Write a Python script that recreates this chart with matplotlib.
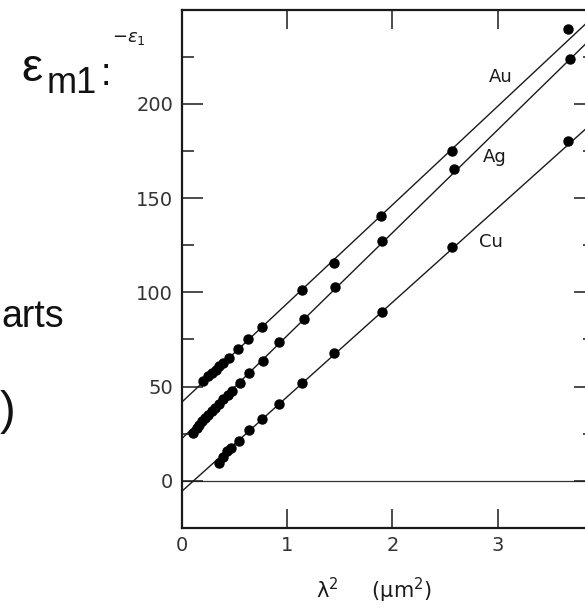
import matplotlib
matplotlib.use('Agg')
import matplotlib.pyplot as plt
import numpy as np

# data (x = lambda^2 in um^2, y = -eps1)
au_x = [0.207, 0.255, 0.293, 0.328, 0.359, 0.397, 0.454, 0.540, 0.634, 0.761,
        1.141, 1.442, 1.892, 2.566, 3.664]
au_y = [52.8, 55.5, 57.3, 59.0, 60.8, 62.6, 65.3, 70.1, 75.2, 81.6,
        101.1, 115.8, 140.3, 175.2, 239.5]

ag_x = [0.112, 0.144, 0.169, 0.198, 0.223, 0.255, 0.287, 0.318, 0.356, 0.397,
        0.439, 0.477, 0.556, 0.644, 0.769, 0.924, 1.163, 1.458, 1.898, 2.581, 3.683]
ag_y = [25.4, 28.0, 29.8, 31.5, 33.3, 35.1, 36.9, 38.7, 41.0, 43.5,
        45.4, 47.5, 51.9, 57.0, 63.8, 73.7, 85.6, 103.0, 127.0, 165.4, 223.8]

cu_x = [0.352, 0.391, 0.429, 0.469, 0.548, 0.641, 0.761, 0.923, 1.147, 1.448,
        1.898, 2.569, 3.664]
cu_y = [9.5, 12.6, 15.6, 17.4, 21.3, 26.8, 32.8, 41.0, 52.0, 67.6,
        89.5, 123.8, 180.5]

# straight fit lines, given by their end points
line_x = [0.0, 4.0]
au_line = [41.6, 251.2]
ag_line = [22.2, 241.0]
cu_line = [-5.7, 195.1]

labels = ['Au', 'Ag', 'Cu']
label_x = [3.025, 2.968, 2.93]
label_y = [214.4, 171.8, 126.6]

ink = '#1a1a1a'
W, H = 585, 609

fig = plt.figure(figsize=(W / 100, H / 100), dpi=100)
fig.patch.set_facecolor('white')

# axes runs past the right edge, like the cropped scan
ax = fig.add_axes([181.5 / W, (H - 528) / H, (595 - 181.5) / W, (528 - 9.5) / H])

ax.axhline(0, color='#333333', lw=0.9, zorder=1)
ax.plot(line_x, au_line, color=ink, lw=1.0)
ax.plot(line_x, ag_line, color=ink, lw=1.0)
ax.plot(line_x, cu_line, color=ink, lw=1.0)

ax.plot(au_x, au_y, 'o', color='black', ms=6.5, mec='black')
ax.plot(ag_x, ag_y, 'o', color='black', ms=6.5, mec='black')
ax.plot(cu_x, cu_y, 'o', color='black', ms=6.5, mec='black')

for lab, lx, ly in zip(labels, label_x, label_y):
    ax.text(lx, ly, lab, fontsize=13, color=ink, ha='center', va='center')

ax.set_xlim(0, 3.92)
ax.set_ylim(-25, 250)

ax.set_xticks([0, 1, 2, 3])
ax.set_xticklabels(['0', '1', '2', '3'])
ax.set_yticks([0, 50, 100, 150, 200])
ax.set_yticks(np.arange(25, 250, 50), minor=True)

ax.tick_params(axis='both', which='major', direction='in', length=15, width=1.1,
               colors=ink, labelsize=14, pad=6, top=True, right=True)
ax.tick_params(axis='y', which='minor', direction='in', length=8.5, width=1.1,
               colors=ink, right=True)
ax.tick_params(axis='x', which='major', labeltop=False, length=14)
for t in ax.get_xticklabels() + ax.get_yticklabels():
    t.set_color('#333333')

for s in ax.spines.values():
    s.set_linewidth(1.6)
    s.set_color(ink)

# y label above the axis
fig.text(112 / W, 1 - 38 / H, r'$-\epsilon_1$', fontsize=13, color=ink,
         ha='left', va='center')

# x label
fig.text(374 / W, 1 - 590 / H, r'λ$^2$     (μm$^2$)', fontsize=15, color=ink,
         ha='center', va='center')

# slide text around the figure
sans = ['Liberation Sans', 'DejaVu Sans']
fig.text(21 / W, 1 - 81 / H, 'ε', fontsize=34, family=sans, color='#111111',
         ha='left', va='baseline')
fig.text(47 / W, 1 - 93 / H, 'm1', fontsize=26, family=sans, color='#111111',
         ha='left', va='baseline')
fig.text(101 / W, 1 - 85 / H, ':', fontsize=27, family=sans, color='#111111',
         ha='left', va='baseline')
fig.text(1 / W, 1 - 327 / H, 'arts', fontsize=27, family=sans, color='#111111',
         ha='left', va='baseline')
fig.text(0 / W, 1 - 424 / H, ')', fontsize=34, family=sans, color='#111111',
         ha='left', va='baseline')

fig.savefig('out.png', dpi=100)
